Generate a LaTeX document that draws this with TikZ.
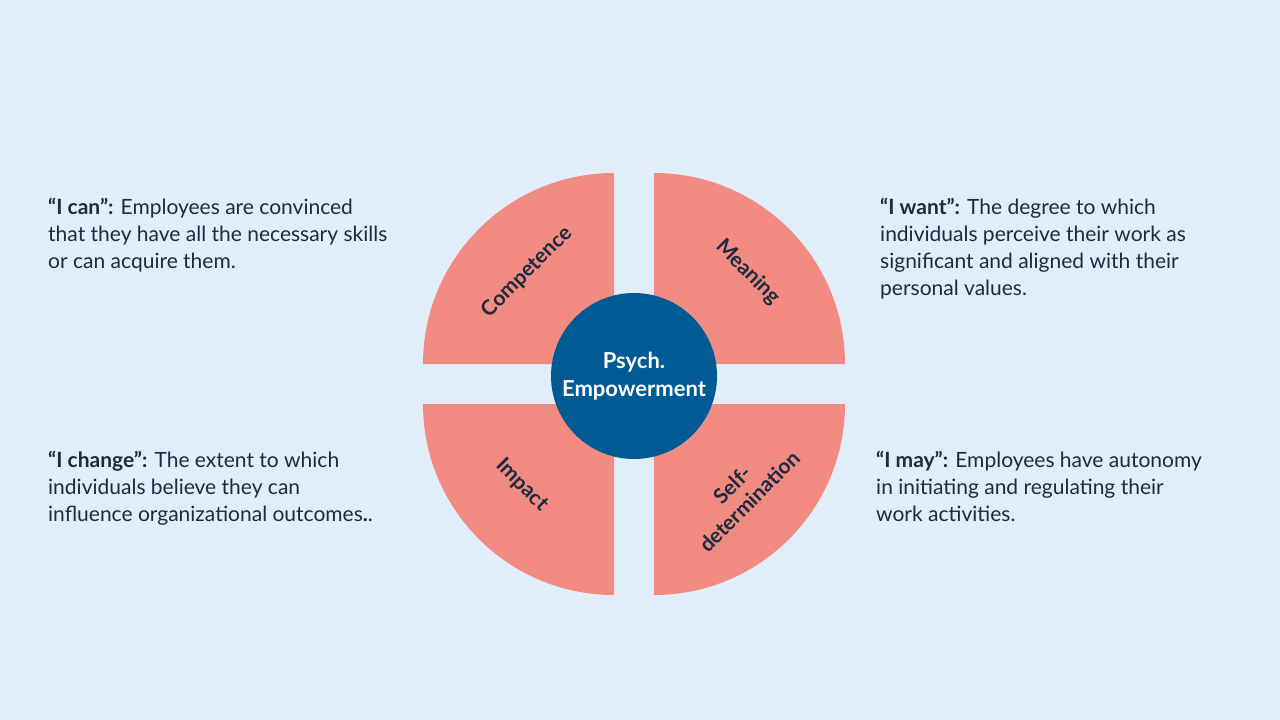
\documentclass[tikz,border=0pt]{standalone}
\usepackage{fontspec}
\setmainfont{Lato}
\definecolor{bgblue}{HTML}{E1EDF8}
\definecolor{wedge}{HTML}{F28B82}
\definecolor{coreblue}{HTML}{005A94}
\definecolor{ink}{HTML}{1C2B40}
\tikzset{
  quarter/.style={fill=wedge},
  wlabel/.style={font=\fontsize{21}{24}\selectfont\bfseries, text=ink, align=center},
  desc/.style={font=\fontsize{21}{27}\selectfont, text=ink, align=left, anchor=north west, inner sep=0pt}
}
\begin{document}
\begin{tikzpicture}[x=1pt,y=-1pt]
\fill[bgblue] (0,0) rectangle (1280,720);
\useasboundingbox (0,0) rectangle (1280,720);
% four quarters
\fill[quarter] (614,364) -- (423,364) arc[start angle=180,end angle=270,radius=191] -- cycle;
\fill[quarter] (654,364) -- (654,173) arc[start angle=270,end angle=360,radius=191] -- cycle;
\fill[quarter] (654,404) -- (845,404) arc[start angle=0,end angle=90,radius=191] -- cycle;
\fill[quarter] (614,404) -- (614,595) arc[start angle=90,end angle=180,radius=191] -- cycle;
\node[wlabel, rotate=45] (competence) at (527,272) {Competence};
\node[wlabel, rotate=-45] (meaning) at (748,272) {Meaning};
\node[wlabel, rotate=-45] (impact) at (522,485) {Impact};
\node[wlabel, rotate=45] (selfdet) at (741,493) {Self-\\determination};
% core
\node[circle, fill=coreblue, minimum size=166pt, inner sep=0pt, text=white, align=center,
  font=\fontsize{22}{28}\selectfont\bfseries] (core) at (634,376) {Psych.\\Empowerment};
% descriptions
\node[desc] (can) at (48,198) {\textbf{“I can":} Employees are convinced\\that they have all the necessary skills\\or can acquire them.};
\node[desc] (want) at (880,198) {\textbf{“I want":} The degree to which\\individuals perceive their work as\\significant and aligned with their\\personal values.};
\node[desc] (change) at (48,451) {\textbf{“I change":} The extent to which\\individuals believe they can\\influence organizational outcomes\textbf{.}.};
\node[desc] (may) at (876,451) {\textbf{“I may":} Employees have autonomy\\in initiating and regulating their\\work activities.};
\end{tikzpicture}
\end{document}
